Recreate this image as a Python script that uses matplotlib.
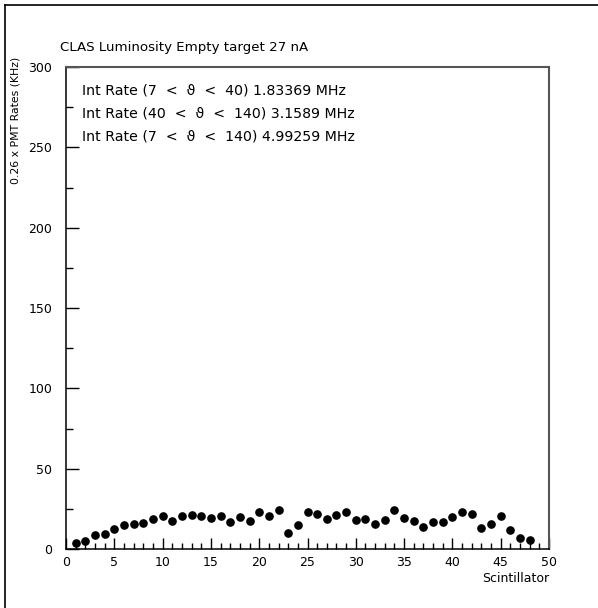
import matplotlib
matplotlib.use("Agg")
import matplotlib.pyplot as plt
from matplotlib.lines import Line2D
from matplotlib.ticker import MultipleLocator

scintillator = list(range(1, 49))
rates = [3.7, 5.0, 8.7, 9.3, 12.4, 15.1, 15.6, 16.2, 18.7, 20.5,
         17.2, 20.3, 21.4, 20.3, 19.5, 20.3, 17.0, 20.1, 17.6, 22.8,
         20.3, 24.5, 10.2, 14.7, 23.0, 22.0, 18.7, 21.4, 22.8, 17.8,
         18.5, 15.4, 18.3, 24.1, 19.5, 17.4, 13.9, 17.0, 17.0, 20.1,
         23.0, 22.0, 12.9, 15.6, 20.7, 11.6, 6.8, 5.6]

title = "CLAS Luminosity Empty target 27 nA"
info_lines = ["Int Rate (7  <  \u03d1  <  40) 1.83369 MHz",
              "Int Rate (40  <  \u03d1  <  140) 3.1589 MHz",
              "Int Rate (7  <  \u03d1  <  140) 4.99259 MHz"]
xlabel = "Scintillator"
ylabel = "0.26 x PMT Rates (KHz)"

W, H = 598, 608
fig = plt.figure(figsize=(W / 100, H / 100), dpi=100)
fig.patch.set_facecolor("white")

ax = fig.add_axes([66 / W, 1 - 549 / H, (549 - 66) / W, (549 - 67) / H])
ax.plot(scintillator, rates, "o", color="black", markersize=5.2, clip_on=False)
ax.set_xlim(0, 50)
ax.set_ylim(0, 300)

ax.xaxis.set_major_locator(MultipleLocator(5))
ax.xaxis.set_minor_locator(MultipleLocator(1))
ax.yaxis.set_major_locator(MultipleLocator(50))
ax.yaxis.set_minor_locator(MultipleLocator(25))
ax.tick_params(which="both", direction="in", top=False, right=False,
               labelsize=9, colors="black")
ax.tick_params(axis="x", which="major", length=8, width=1, pad=5)
ax.tick_params(axis="x", which="minor", length=4, width=1)
ax.tick_params(axis="y", which="major", length=9, width=1, pad=10)
ax.tick_params(axis="y", which="minor", length=5, width=1)
for s in ax.spines.values():
    s.set_linewidth(1.1)
    s.set_color("black")
for s in ("top", "right"):
    ax.spines[s].set_color("#555555")
    ax.spines[s].set_linewidth(1.5)

fig.text(60 / W, 1 - 48 / H, title, fontsize=9.6, ha="left", va="center")
for i, line in enumerate(info_lines):
    fig.text(82 / W, 1 - (91 + 22.5 * i) / H, line, fontsize=10.2,
             ha="left", va="center")
fig.text(549 / W, 1 - 578 / H, xlabel, fontsize=9, ha="right", va="center")
fig.text(16 / W, 1 - 57 / H, ylabel, fontsize=7.8, rotation=90,
         ha="center", va="top")

# outer frame (partial, as in the cropped page)
fig.add_artist(Line2D([5 / W, 5 / W], [0, 1 - 5 / H], transform=fig.transFigure,
                      color="black", linewidth=1.2))
fig.add_artist(Line2D([5 / W, 1], [1 - 5 / H, 1 - 5 / H], transform=fig.transFigure,
                      color="black", linewidth=1.2))

fig.savefig("out.png", dpi=100)
